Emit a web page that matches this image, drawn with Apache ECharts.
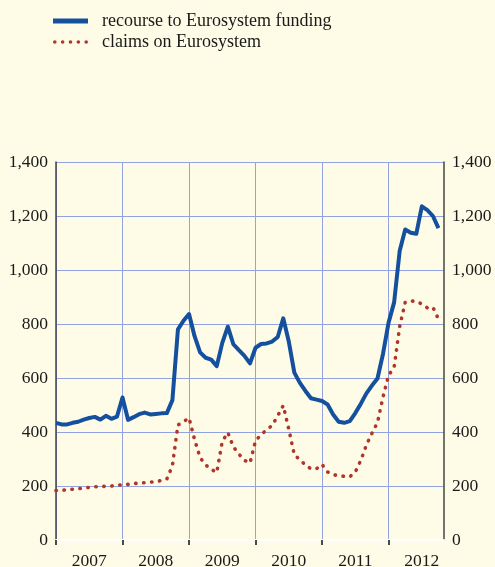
<!DOCTYPE html>
<html>
<head>
<meta charset="utf-8">
<script src="https://cdn.jsdelivr.net/npm/echarts@6/dist/echarts.min.js"></script>
<style>
  html, body { margin: 0; padding: 0; background: #fefce6; }
  #chart { width: 495px; height: 567px; }
</style>
</head>
<body>
<div id="chart"></div>
<script>
// monthly observations, Jan 2007 .. Oct 2012 (EUR billions)
const years = ['2007', '2008', '2009', '2010', '2011', '2012'];
const yTicks = [0, 200, 400, 600, 800, 1000, 1200, 1400];

const recourse = [
  434, 428, 428, 434, 438, 446, 452, 456, 446, 460, 449, 457,
  528, 445, 455, 466, 472, 465, 467, 469, 470, 518, 780, 812,
  837, 755, 695, 675, 668, 644, 730, 790, 725, 703, 682, 654,
  712, 726, 728, 735, 752, 821, 735, 620, 582, 552, 525, 520,
  515, 502, 465, 438, 434, 440, 470, 505, 543, 572, 598, 690,
  805, 880, 1070, 1150, 1138, 1134, 1236, 1222, 1200, 1155
];
const claims = [
  183, 184, 186, 188, 190, 192, 195, 197, 198, 199, 200, 202,
  205, 206, 209, 211, 212, 214, 217, 220, 226, 275, 426, 438,
  452, 372, 305, 278, 262, 250, 365, 398, 345, 318, 295, 285,
  368, 390, 408, 424, 460, 498, 410, 315, 298, 277, 264, 264,
  280, 252, 242, 238, 236, 234, 252, 295, 352, 395, 435, 530,
  610, 640, 790, 880, 885, 884, 874, 860, 862, 818
];

const toPairs = arr => arr.map((v, i) => [i, v]);
const font = '"Liberation Serif", "Times New Roman", serif';
const yearAt = v => years[Math.floor(v / 12)] || '';

// legend glyphs: solid bar and a row of five dots
const barIcon = 'path://M0,0H35V5H0Z';
const dot = cx => 'M' + (cx - 1.8) + ',1.8a1.8,1.8 0 1,0 3.6,0a1.8,1.8 0 1,0 -3.6,0Z';
const dotsIcon = 'path://' + [1.8, 9.6, 17.4, 25.2, 33].map(dot).join('');

const chart = echarts.init(document.getElementById('chart'));
chart.setOption({
  backgroundColor: '#fefce6',
  animation: false,
  textStyle: { fontFamily: font },
  legend: {
    orient: 'vertical',
    left: 53,
    top: 12,
    padding: 0,
    itemWidth: 35,
    itemHeight: 5,
    itemGap: 3,
    textStyle: { fontFamily: font, fontSize: 18, color: '#1a1a1a', lineHeight: 18, padding: [0, 0, 0, 9] },
    data: [
      { name: 'recourse to Eurosystem funding', icon: barIcon, itemStyle: { color: '#14509e' } },
      { name: 'claims on Eurosystem', icon: dotsIcon, itemStyle: { color: '#b0352b' } }
    ]
  },
  grid: { left: 56, right: 51, top: 162, bottom: 27, containLabel: false, outerBoundsMode: 'none' },
  xAxis: {
    type: 'value',
    min: 0,
    max: 70,
    interval: 12,
    axisLine: { show: true, onZero: false, lineStyle: { color: '#ffffff', width: 2 } },
    axisTick: { show: true, length: 5, inside: false, lineStyle: { color: '#111', width: 1.5 }, customValues: [0, 12, 24, 36, 48, 60] },
    axisLabel: {
      customValues: [6, 18, 30, 42, 54, 66],
      formatter: v => yearAt(v),
      fontFamily: font, fontSize: 17.5, color: '#1a1a1a', margin: 12
    },
    splitLine: { show: true, lineStyle: { color: '#93a3e2', width: 1 } }
  },
  yAxis: [
    {
      type: 'value', position: 'left', min: 0, max: 1400, interval: 200,
      axisLine: { show: true, lineStyle: { color: '#444', width: 1.5 } },
      axisTick: { show: false },
      axisLabel: { formatter: v => v.toLocaleString('en-US'), fontFamily: font, fontSize: 17.5, color: '#1a1a1a', margin: 8 },
      splitLine: { show: true, lineStyle: { color: '#93a3e2', width: 1 } }
    },
    {
      type: 'value', position: 'right', min: 0, max: 1400, interval: 200,
      axisLine: { show: true, lineStyle: { color: '#444', width: 1.5 } },
      axisTick: { show: false },
      axisLabel: { formatter: v => v.toLocaleString('en-US'), fontFamily: font, fontSize: 17.5, color: '#1a1a1a', margin: 8 },
      splitLine: { show: false }
    }
  ],
  series: [
    {
      name: 'recourse to Eurosystem funding',
      type: 'line',
      data: toPairs(recourse),
      showSymbol: false,
      symbol: 'none',
      color: '#14509e',
      lineStyle: { color: '#14509e', width: 4, join: 'round' },
      z: 3
    },
    {
      name: 'claims on Eurosystem',
      type: 'line',
      data: toPairs(claims),
      showSymbol: false,
      symbol: 'none',
      color: '#b0352b',
      lineStyle: { color: '#b0352b', width: 3.6, type: [0.4, 7.6], cap: 'round' },
      z: 2
    }
  ]
});
</script>
</body>
</html>
